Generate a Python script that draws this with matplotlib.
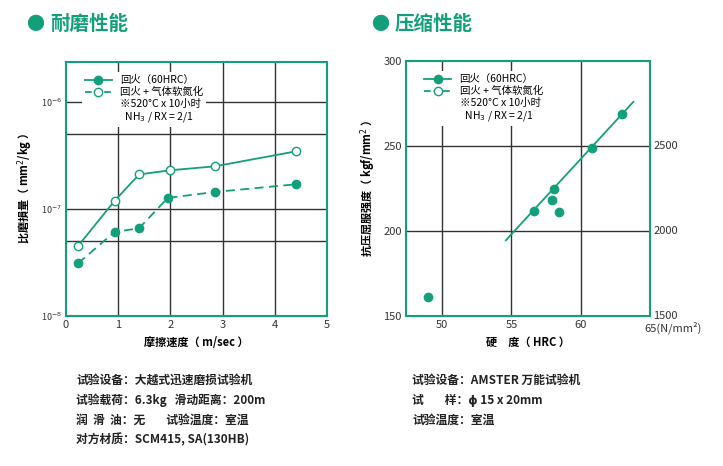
import matplotlib
matplotlib.use("Agg")
import matplotlib.pyplot as plt
from matplotlib.lines import Line2D
plt.rcParams['font.family'] = ['Noto Sans CJK SC', 'DejaVu Sans']

G = '#12a07a'
speed = [0.23, 0.93, 1.4, 2.0, 2.85, 4.4]
wear_nitrided = [4.5e-8, 1.19e-7, 2.1e-7, 2.3e-7, 2.5e-7, 3.45e-7]
speed_q = [0.23, 0.93, 1.4, 1.95, 2.85, 4.4]
wear_quenched = [3.1e-8, 6.1e-8, 6.6e-8, 1.27e-7, 1.44e-7, 1.7e-7]
hrc = [49.0, 56.6, 57.9, 58.1, 58.4, 60.8, 63.0]
strength = [161, 212, 218, 225, 211, 249, 269]
fit_x = [54.6, 63.8]
fit_y = [194.5, 276]

fig = plt.figure(figsize=(7.23, 4.66), dpi=100)
W, H = 723, 466
def ax_at(l, t, r, b):
    return fig.add_axes([l/W, 1-b/H, (r-l)/W, (b-t)/H])

# titles
for x, t in [(26, '耐磨性能'), (371, '压缩性能')]:
    fig.text(x/W, 1-25/H, '●', color=G, fontsize=13, va='center')
    fig.text((x+24)/W, 1-24/H, t, color=G, fontsize=14, fontweight='bold', va='center')

# left
ax = ax_at(66, 62, 327, 316)
ax.set_yscale('log')
ax.set_xlim(0, 5); ax.set_ylim(1e-8, 2.36e-6)
for v in [1, 2, 3, 4]:
    ax.axvline(v, color='#333', lw=1, zorder=0)
for v in [1e-6, 5e-7, 1e-7, 5e-8]:
    ax.axhline(v, color='#333', lw=1, zorder=0)
ax.plot(speed, wear_nitrided, '-o', color=G, mfc='white', ms=6, lw=1.3)
ax.plot(speed_q, wear_quenched, '--o', color=G, ms=6, lw=1.3, dashes=(5, 3))
ax.minorticks_off()
ax.set_yticks([1e-8, 1e-7, 1e-6]); ax.set_yticklabels(['10$^{-8}$', '10$^{-7}$', '10$^{-6}$'], fontsize=6.5, color='#333')
ax.set_xticks(range(6)); ax.tick_params(length=0, pad=3)
ax.tick_params(axis='x', labelsize=8, colors='#333')
ax.set_xlabel('摩擦速度（ m/sec ）', fontsize=8, fontweight='bold')
ax.set_ylabel('比磨損量（ mm$^2$/kg ）', fontsize=8, fontweight='bold')
for s in ax.spines.values(): s.set_color(G); s.set_linewidth(1.5)

def legend(a):
    h = [Line2D([], [], color=G, marker='o', ms=6, lw=1.3),
         Line2D([], [], color=G, marker='o', mfc='white', ms=6, lw=1.3, ls='--'),
         Line2D([], [], lw=0), Line2D([], [], lw=0)]
    lab = ['回火（60HRC）', '回火 + 气体软氮化', '※520°C x 10小时', '  NH$_3$ / RX = 2/1']
    lg = a.legend(h, lab, loc='upper left', fontsize=7.5, frameon=True, framealpha=1,
                  edgecolor='none', handlelength=2.6, labelspacing=0.15,
                  bbox_to_anchor=(0.04, 0.98), borderpad=0.3)
    lg.get_frame().set_linewidth(0)
legend(ax)

# right
ax2 = ax_at(406, 61, 650, 316)
ax2.set_xlim(47.4, 65); ax2.set_ylim(150, 300)
for v in [50, 55, 60]:
    ax2.axvline(v, color='#333', lw=1, zorder=0)
for v in [200, 250]:
    ax2.axhline(v, color='#333', lw=1, zorder=0)
ax2.plot(fit_x, fit_y, color=G, lw=1.3)
ax2.plot(hrc, strength, 'o', color=G, ms=6)
ax2.set_xticks([50, 55, 60, 65]); ax2.set_xticklabels(['50', '55', '60', ''])
ax2.set_yticks([150, 200, 250, 300])
ax2.tick_params(length=0, labelsize=8, pad=3, colors='#333')
ax2.text(64.6, 146.5, '65(N/mm²)', fontsize=8, va='top', ha='left', color='#333')
for v, t in [(150, '1500'), (200, '2000'), (250, '2500')]:
    ax2.text(65.25, v, t, fontsize=8, va='center', ha='left', color='#333')
ax2.set_xlabel('硬　度（ HRC ）', fontsize=8, fontweight='bold')
ax2.set_ylabel('抗压屈服强度（ kgf/mm$^2$ ）', fontsize=8, fontweight='bold')
for s in ax2.spines.values(): s.set_color(G); s.set_linewidth(1.5)
legend(ax2)

lt = ['试验设备：大越式迅速磨损试验机', '试验载荷：6.3kg   滑动距离：200m',
      '润  滑  油：无        试验温度：室温', '对方材质：SCM415, SA(130HB)']
for i, t in enumerate(lt):
    fig.text(76/W, 1-(380+20*i)/H, t, fontsize=8.5, fontweight='bold', color='#222', va='center')
rt = ['试验设备：AMSTER 万能试验机', '试        样：ϕ 15 x 20mm', '试验温度：室温']
for i, t in enumerate(rt):
    fig.text(412/W, 1-(380+20*i)/H, t, fontsize=8.5, fontweight='bold', color='#222', va='center')

fig.savefig('out.png', dpi=100)
